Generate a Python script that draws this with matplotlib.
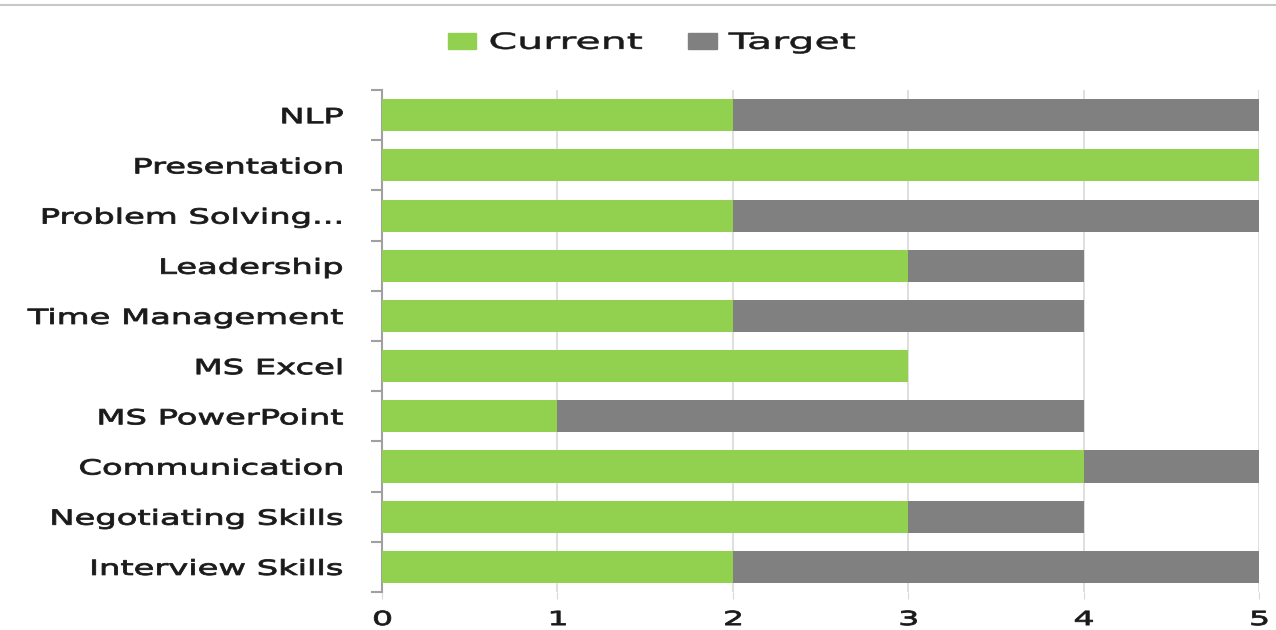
import matplotlib.pyplot as plt
import numpy as np
from matplotlib.lines import Line2D
from matplotlib.patheffects import AbstractPathEffect
from matplotlib.transforms import Affine2D

skills = ["Interview Skills", "Negotiating Skills", "Communication", "MS PowerPoint",
          "MS Excel", "Time Management", "Leadership", "Problem Solving...",
          "Presentation", "NLP"]
current = [2, 3, 4, 1, 3, 2, 3, 2, 5, 2]
target = [3, 1, 1, 3, 0, 2, 1, 3, 0, 3]

green = "#92D050"
grey = "#808080"


class StretchX(AbstractPathEffect):
    # the source image is stretched sideways, so widen the glyphs (and thicken a bit)
    def __init__(self, sx, anchor="left", stroke=0.6):
        super().__init__()
        self.sx = sx
        self.anchor = anchor
        self.stroke = stroke

    def draw_path(self, renderer, gc, tpath, affine, rgbFace=None):
        v = tpath.vertices
        if len(v) == 0:
            return
        x0, x1 = v[:, 0].min(), v[:, 0].max()
        ref = {"left": 0.0, "right": x1, "center": (x0 + x1) / 2}[self.anchor]
        t = Affine2D().translate(-ref, 0).scale(self.sx, 1).translate(ref, 0) + affine
        gc0 = renderer.new_gc()
        gc0.copy_properties(gc)
        gc0.set_linewidth(self.stroke)
        if rgbFace is not None:
            gc0.set_foreground(rgbFace)
        renderer.draw_path(gc0, tpath, t, rgbFace)
        gc0.restore()


fig = plt.figure(figsize=(12.76, 6.3), dpi=100)
ax = fig.add_axes([0.2994, 0.0603, 0.6873, 0.7967])

y = np.arange(len(skills))
ax.barh(y, current, height=0.64, color=green, label="Current", zorder=3)
ax.barh(y, target, left=current, height=0.64, color=grey, label="Target", zorder=3)

ax.set_xlim(0, 5)
ax.set_ylim(-0.5, len(skills) - 0.5)
ax.set_xticks(range(6))
ax.xaxis.grid(True, color="#d9d9d9", linewidth=1.2, zorder=0)

# category labels centred, tick marks on the boundaries
ax.set_yticks(np.arange(-0.5, len(skills), 1.0))
ax.set_yticklabels([])
ax.set_yticks(y, minor=True)
ax.set_yticklabels(skills, minor=True, fontsize=15, color="#1a1a1a")
ax.tick_params(axis="y", which="major", length=8, color="#a0a0a0", width=1.5)
ax.tick_params(axis="y", which="minor", length=0, pad=28)
ax.tick_params(axis="x", length=5, color="#d9d9d9", labelsize=14, pad=8, labelcolor="#1a1a1a")

for lab in ax.get_yticklabels(minor=True):
    lab.set_path_effects([StretchX(1.62, "right")])
for lab in ax.get_xticklabels():
    lab.set_path_effects([StretchX(1.7, "center")])

for s in ["top", "right", "bottom"]:
    ax.spines[s].set_visible(False)
ax.spines["left"].set_color("#a0a0a0")
ax.spines["left"].set_linewidth(1.5)

leg = fig.legend(handles=[plt.Rectangle((0, 0), 1, 1, color=green), plt.Rectangle((0, 0), 1, 1, color=grey)],
                 labels=["Current", "Target"], loc="center", bbox_to_anchor=(0.488, 0.932),
                 ncol=2, frameon=False, fontsize=16, handlelength=1.3, handleheight=0.77,
                 handletextpad=0.54, columnspacing=5.2)
for t in leg.get_texts():
    t.set_color("#1a1a1a")
    t.set_path_effects([StretchX(1.85, "left", 0.4)])

fig.add_artist(Line2D([0, 1], [0.992, 0.992], color="#c8c8c8", linewidth=1.5, transform=fig.transFigure))

fig.savefig("out.png", dpi=100)
